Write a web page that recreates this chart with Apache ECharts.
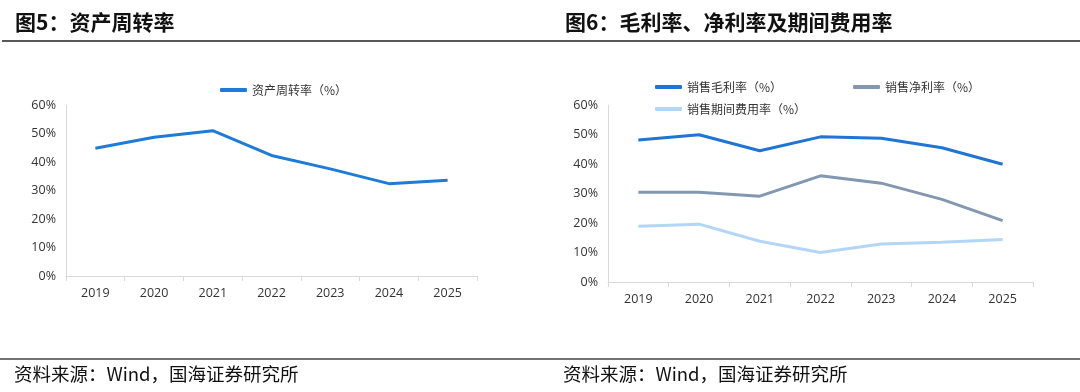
<!DOCTYPE html>
<html><head><meta charset="utf-8">
<script src="https://cdn.jsdelivr.net/npm/echarts@6/dist/echarts.min.js"></script>
<style>html,body{margin:0;padding:0;background:#fff}#c{width:1080px;height:392px}</style>
</head><body><div id="c"></div>
<script>
const years = ['2019','2020','2021','2022','2023','2024','2025'];
const assetTurnover = [44.8, 48.7, 51.0, 42.3, 37.6, 32.4, 33.6];
const grossMargin = [48.1, 49.9, 44.5, 49.2, 48.7, 45.5, 39.9];
const netMargin = [30.4, 30.4, 29.1, 36.0, 33.5, 28.0, 20.8];
const expenseRate = [18.9, 19.6, 13.8, 10.0, 12.9, 13.5, 14.4];
const yTicks = {min: 0, max: 60, interval: 10};
const titles = ['图5：资产周转率', '图6：毛利率、净利率及期间费用率'];
const source = '资料来源：Wind，国海证券研究所';
const names = ['资产周转率（%）','销售毛利率（%）','销售净利率（%）','销售期间费用率（%）'];

const font = '"Noto Sans CJK SC", "Noto Sans", sans-serif';
const tickFont = '"Open Sans", "Noto Sans", sans-serif';
const axisGray = '#d9d9d9';

function xAxis(gi){return {type:'category', gridIndex:gi, data:years, boundaryGap:true,
  axisLine:{lineStyle:{color:axisGray}}, axisTick:{show:true, lineStyle:{color:axisGray}},
  axisLabel:{color:'#333', fontSize:12.5, fontFamily:tickFont, margin:11}};}
function yAxis(gi){return {type:'value', gridIndex:gi, min:yTicks.min, max:yTicks.max, interval:yTicks.interval,
  axisLine:{show:true, lineStyle:{color:axisGray}}, axisTick:{show:false}, splitLine:{show:false},
  axisLabel:{color:'#333', fontSize:12.5, fontFamily:tickFont, margin:10, formatter:v=>v+'%'}};}
function line(name, data, color, gi){return {type:'line', name, data, xAxisIndex:gi, yAxisIndex:gi,
  symbol:'none', smooth:false, lineStyle:{color, width:3}, itemStyle:{color}};}
const legendBase = {icon:'roundRect', itemWidth:27, itemHeight:4, textStyle:{fontSize:12, color:'#333', fontFamily:font}};

const chart = echarts.init(document.getElementById('c'), null, {renderer:'canvas'});
chart.setOption({
  animation:false,
  grid:[
    {left:66, right:603, top:105, bottom:116},
    {left:608, right:47, top:105, bottom:110}
  ],
  xAxis:[xAxis(0), xAxis(1)],
  yAxis:[yAxis(0), yAxis(1)],
  legend:[
    Object.assign({}, legendBase, {data:[names[0]], left:215, top:79}),
    Object.assign({}, legendBase, {data:[names[1]], left:650, top:76}),
    Object.assign({}, legendBase, {data:[names[2]], left:848, top:76}),
    Object.assign({}, legendBase, {data:[names[3]], left:650, top:98})
  ],
  series:[
    line(names[0], assetTurnover, '#1f7bd8', 0),
    line(names[1], grossMargin, '#1f74d4', 1),
    line(names[2], netMargin, '#8497b0', 1),
    line(names[3], expenseRate, '#b4d6f6', 1)
  ],
  graphic:[
    {type:'text', left:15, top:12, style:{text:titles[0], font:'bold 21px '+font, fill:'#111'}},
    {type:'text', left:565, top:12, style:{text:titles[1], font:'bold 21px '+font, fill:'#111'}},
    {type:'line', shape:{x1:2, y1:41, x2:1080, y2:41}, style:{stroke:'#222', lineWidth:1.5}},
    {type:'line', shape:{x1:0, y1:359, x2:1080, y2:359}, style:{stroke:'#444', lineWidth:1.5}},
    {type:'text', left:14, top:365, style:{text:source, font:'18.5px '+font, fill:'#111'}},
    {type:'text', left:563, top:365, style:{text:source, font:'18.5px '+font, fill:'#111'}}
  ]
});
</script></body></html>
